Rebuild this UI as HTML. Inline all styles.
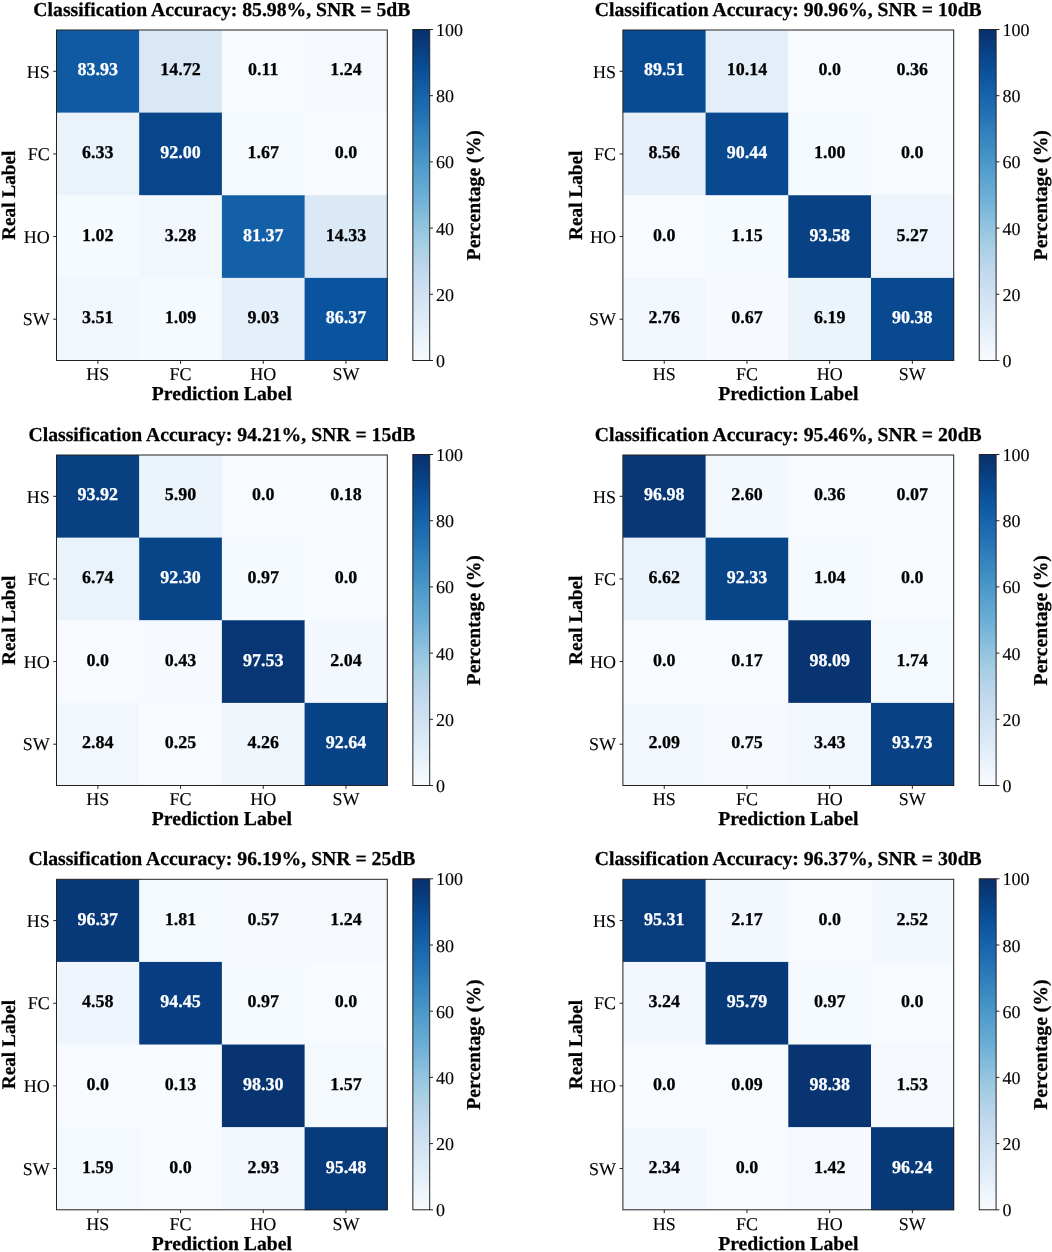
<!DOCTYPE html>
<html><head><meta charset="utf-8"><title>Confusion matrices</title><style>
html,body{margin:0;padding:0;background:#fff;overflow:hidden;}
svg{display:block;will-change:transform;}
text{font-family:"Liberation Serif",serif;text-rendering:geometricPrecision;stroke-width:0.25px;paint-order:stroke;}
.n[fill="#ffffff"]{stroke:#ffffff;}
.n[fill="#000000"]{stroke:#000000;}
.ti,.xl{stroke:#000;}
.yt,.xt,.ct{stroke:#000;stroke-width:0.12px;}
.n{font-size:18px;font-weight:bold;text-anchor:middle;}
.yt{font-size:18px;text-anchor:end;fill:#000;}
.xt{font-size:18px;text-anchor:middle;fill:#000;}
.ct{font-size:18px;text-anchor:start;fill:#000;}
.ti{font-size:19.7px;font-weight:bold;text-anchor:middle;fill:#000;}
.xl{font-size:19.7px;font-weight:bold;text-anchor:middle;fill:#000;}
.yl{font-size:19.3px;}
.tk{stroke:#222;stroke-width:1;}
</style></head>
<body><svg width="1052" height="1252" viewBox="0 0 1052 1252">
<defs><linearGradient id="blues" x1="0" y1="0" x2="0" y2="1"><stop offset="0%" stop-color="#08306b"/><stop offset="5%" stop-color="#083c7d"/><stop offset="10%" stop-color="#084a91"/><stop offset="15%" stop-color="#0d57a1"/><stop offset="20%" stop-color="#1764ab"/><stop offset="25%" stop-color="#2070b4"/><stop offset="30%" stop-color="#2e7ebc"/><stop offset="35%" stop-color="#3b8bc2"/><stop offset="40%" stop-color="#4a98c9"/><stop offset="45%" stop-color="#5ba3d0"/><stop offset="50%" stop-color="#6aaed6"/><stop offset="55%" stop-color="#7fb9da"/><stop offset="60%" stop-color="#94c4df"/><stop offset="65%" stop-color="#a6cee4"/><stop offset="70%" stop-color="#b7d4ea"/><stop offset="75%" stop-color="#c6dbef"/><stop offset="80%" stop-color="#d0e1f2"/><stop offset="85%" stop-color="#d9e8f5"/><stop offset="90%" stop-color="#e3eef9"/><stop offset="95%" stop-color="#eef5fc"/><stop offset="100%" stop-color="#f7fbff"/></linearGradient></defs>
<rect width="1052" height="1252" fill="#fff"/>
<rect x="56.5" y="30" width="83.1" height="83.03" fill="#0f5aa3"/>
<rect x="139.2" y="30" width="83.1" height="83.03" fill="#dae8f6"/>
<rect x="221.9" y="30" width="83.1" height="83.03" fill="#f7fbff"/>
<rect x="304.6" y="30" width="83.1" height="83.03" fill="#f5f9fe"/>
<rect x="56.5" y="112.62" width="83.1" height="83.03" fill="#eaf3fb"/>
<rect x="139.2" y="112.62" width="83.1" height="83.03" fill="#08458a"/>
<rect x="221.9" y="112.62" width="83.1" height="83.03" fill="#f4f9fe"/>
<rect x="304.6" y="112.62" width="83.1" height="83.03" fill="#f7fbff"/>
<rect x="56.5" y="195.25" width="83.1" height="83.03" fill="#f5fafe"/>
<rect x="139.2" y="195.25" width="83.1" height="83.03" fill="#f1f7fd"/>
<rect x="221.9" y="195.25" width="83.1" height="83.03" fill="#1460a8"/>
<rect x="304.6" y="195.25" width="83.1" height="83.03" fill="#dbe9f6"/>
<rect x="56.5" y="277.88" width="83.1" height="83.03" fill="#f1f7fd"/>
<rect x="139.2" y="277.88" width="83.1" height="83.03" fill="#f5fafe"/>
<rect x="221.9" y="277.88" width="83.1" height="83.03" fill="#e5eff9"/>
<rect x="304.6" y="277.88" width="83.1" height="83.03" fill="#0a539e"/>
<text class="n" x="97.85" y="75.41" fill="#ffffff">83.93</text>
<text class="n" x="180.55" y="75.41" fill="#000000">14.72</text>
<text class="n" x="263.25" y="75.41" fill="#000000">0.11</text>
<text class="n" x="345.95" y="75.41" fill="#000000">1.24</text>
<text class="n" x="97.85" y="158.04" fill="#000000">6.33</text>
<text class="n" x="180.55" y="158.04" fill="#ffffff">92.00</text>
<text class="n" x="263.25" y="158.04" fill="#000000">1.67</text>
<text class="n" x="345.95" y="158.04" fill="#000000">0.0</text>
<text class="n" x="97.85" y="240.66" fill="#000000">1.02</text>
<text class="n" x="180.55" y="240.66" fill="#000000">3.28</text>
<text class="n" x="263.25" y="240.66" fill="#ffffff">81.37</text>
<text class="n" x="345.95" y="240.66" fill="#000000">14.33</text>
<text class="n" x="97.85" y="323.29" fill="#000000">3.51</text>
<text class="n" x="180.55" y="323.29" fill="#000000">1.09</text>
<text class="n" x="263.25" y="323.29" fill="#000000">9.03</text>
<text class="n" x="345.95" y="323.29" fill="#ffffff">86.37</text>
<rect x="56.5" y="30" width="330.8" height="330.5" fill="none" stroke="#222222" stroke-width="1.0"/>
<line x1="53.2" y1="71.31" x2="56.5" y2="71.31" class="tk"/>
<line x1="97.85" y1="360.5" x2="97.85" y2="363.8" class="tk"/>
<text class="yt" x="49.7" y="77.51">HS</text>
<text class="xt" x="97.85" y="380.3">HS</text>
<line x1="53.2" y1="153.94" x2="56.5" y2="153.94" class="tk"/>
<line x1="180.55" y1="360.5" x2="180.55" y2="363.8" class="tk"/>
<text class="yt" x="49.7" y="160.14">FC</text>
<text class="xt" x="180.55" y="380.3">FC</text>
<line x1="53.2" y1="236.56" x2="56.5" y2="236.56" class="tk"/>
<line x1="263.25" y1="360.5" x2="263.25" y2="363.8" class="tk"/>
<text class="yt" x="49.7" y="242.76">HO</text>
<text class="xt" x="263.25" y="380.3">HO</text>
<line x1="53.2" y1="319.19" x2="56.5" y2="319.19" class="tk"/>
<line x1="345.95" y1="360.5" x2="345.95" y2="363.8" class="tk"/>
<text class="yt" x="49.7" y="325.39">SW</text>
<text class="xt" x="345.95" y="380.3">SW</text>
<text class="ti" x="221.9" y="15.5">Classification Accuracy: 85.98%, SNR = 5dB</text>
<text class="xl" x="221.9" y="400.4">Prediction Label</text>
<text class="xl yl" transform="translate(15.2,195.25) rotate(-90)" x="0" y="0">Real Label</text>
<rect x="412.85" y="29.5" width="16.85" height="331" fill="url(#blues)" stroke="#222222" stroke-width="1.0"/>
<line x1="429.7" y1="360.5" x2="433" y2="360.5" class="tk"/>
<text class="ct" x="436" y="367">0</text>
<line x1="429.7" y1="294.3" x2="433" y2="294.3" class="tk"/>
<text class="ct" x="436" y="300.8">20</text>
<line x1="429.7" y1="228.1" x2="433" y2="228.1" class="tk"/>
<text class="ct" x="436" y="234.6">40</text>
<line x1="429.7" y1="161.9" x2="433" y2="161.9" class="tk"/>
<text class="ct" x="436" y="168.4">60</text>
<line x1="429.7" y1="95.7" x2="433" y2="95.7" class="tk"/>
<text class="ct" x="436" y="102.2">80</text>
<line x1="429.7" y1="29.5" x2="433" y2="29.5" class="tk"/>
<text class="ct" x="436" y="36">100</text>
<text class="xl" transform="translate(480.2,195.25) rotate(-90)" x="0" y="0">Percentage (%)</text>
<rect x="622.9" y="30" width="83.1" height="83.03" fill="#084b93"/>
<rect x="705.6" y="30" width="83.1" height="83.03" fill="#e3eef9"/>
<rect x="788.3" y="30" width="83.1" height="83.03" fill="#f7fbff"/>
<rect x="871" y="30" width="83.1" height="83.03" fill="#f7fbff"/>
<rect x="622.9" y="112.62" width="83.1" height="83.03" fill="#e7f0fa"/>
<rect x="705.6" y="112.62" width="83.1" height="83.03" fill="#084990"/>
<rect x="788.3" y="112.62" width="83.1" height="83.03" fill="#f5fafe"/>
<rect x="871" y="112.62" width="83.1" height="83.03" fill="#f7fbff"/>
<rect x="622.9" y="195.25" width="83.1" height="83.03" fill="#f7fbff"/>
<rect x="705.6" y="195.25" width="83.1" height="83.03" fill="#f5fafe"/>
<rect x="788.3" y="195.25" width="83.1" height="83.03" fill="#084184"/>
<rect x="871" y="195.25" width="83.1" height="83.03" fill="#edf4fc"/>
<rect x="622.9" y="277.88" width="83.1" height="83.03" fill="#f2f7fd"/>
<rect x="705.6" y="277.88" width="83.1" height="83.03" fill="#f6faff"/>
<rect x="788.3" y="277.88" width="83.1" height="83.03" fill="#ebf3fb"/>
<rect x="871" y="277.88" width="83.1" height="83.03" fill="#084990"/>
<text class="n" x="664.25" y="75.41" fill="#ffffff">89.51</text>
<text class="n" x="746.95" y="75.41" fill="#000000">10.14</text>
<text class="n" x="829.65" y="75.41" fill="#000000">0.0</text>
<text class="n" x="912.35" y="75.41" fill="#000000">0.36</text>
<text class="n" x="664.25" y="158.04" fill="#000000">8.56</text>
<text class="n" x="746.95" y="158.04" fill="#ffffff">90.44</text>
<text class="n" x="829.65" y="158.04" fill="#000000">1.00</text>
<text class="n" x="912.35" y="158.04" fill="#000000">0.0</text>
<text class="n" x="664.25" y="240.66" fill="#000000">0.0</text>
<text class="n" x="746.95" y="240.66" fill="#000000">1.15</text>
<text class="n" x="829.65" y="240.66" fill="#ffffff">93.58</text>
<text class="n" x="912.35" y="240.66" fill="#000000">5.27</text>
<text class="n" x="664.25" y="323.29" fill="#000000">2.76</text>
<text class="n" x="746.95" y="323.29" fill="#000000">0.67</text>
<text class="n" x="829.65" y="323.29" fill="#000000">6.19</text>
<text class="n" x="912.35" y="323.29" fill="#ffffff">90.38</text>
<rect x="622.9" y="30" width="330.8" height="330.5" fill="none" stroke="#222222" stroke-width="1.0"/>
<line x1="619.6" y1="71.31" x2="622.9" y2="71.31" class="tk"/>
<line x1="664.25" y1="360.5" x2="664.25" y2="363.8" class="tk"/>
<text class="yt" x="616.1" y="77.51">HS</text>
<text class="xt" x="664.25" y="380.3">HS</text>
<line x1="619.6" y1="153.94" x2="622.9" y2="153.94" class="tk"/>
<line x1="746.95" y1="360.5" x2="746.95" y2="363.8" class="tk"/>
<text class="yt" x="616.1" y="160.14">FC</text>
<text class="xt" x="746.95" y="380.3">FC</text>
<line x1="619.6" y1="236.56" x2="622.9" y2="236.56" class="tk"/>
<line x1="829.65" y1="360.5" x2="829.65" y2="363.8" class="tk"/>
<text class="yt" x="616.1" y="242.76">HO</text>
<text class="xt" x="829.65" y="380.3">HO</text>
<line x1="619.6" y1="319.19" x2="622.9" y2="319.19" class="tk"/>
<line x1="912.35" y1="360.5" x2="912.35" y2="363.8" class="tk"/>
<text class="yt" x="616.1" y="325.39">SW</text>
<text class="xt" x="912.35" y="380.3">SW</text>
<text class="ti" x="788.3" y="15.5">Classification Accuracy: 90.96%, SNR = 10dB</text>
<text class="xl" x="788.3" y="400.4">Prediction Label</text>
<text class="xl yl" transform="translate(581.6,195.25) rotate(-90)" x="0" y="0">Real Label</text>
<rect x="979.25" y="29.5" width="16.85" height="331" fill="url(#blues)" stroke="#222222" stroke-width="1.0"/>
<line x1="996.1" y1="360.5" x2="999.4" y2="360.5" class="tk"/>
<text class="ct" x="1002.4" y="367">0</text>
<line x1="996.1" y1="294.3" x2="999.4" y2="294.3" class="tk"/>
<text class="ct" x="1002.4" y="300.8">20</text>
<line x1="996.1" y1="228.1" x2="999.4" y2="228.1" class="tk"/>
<text class="ct" x="1002.4" y="234.6">40</text>
<line x1="996.1" y1="161.9" x2="999.4" y2="161.9" class="tk"/>
<text class="ct" x="1002.4" y="168.4">60</text>
<line x1="996.1" y1="95.7" x2="999.4" y2="95.7" class="tk"/>
<text class="ct" x="1002.4" y="102.2">80</text>
<line x1="996.1" y1="29.5" x2="999.4" y2="29.5" class="tk"/>
<text class="ct" x="1002.4" y="36">100</text>
<text class="xl" transform="translate(1046.6,195.25) rotate(-90)" x="0" y="0">Percentage (%)</text>
<rect x="56.5" y="455" width="83.1" height="83.03" fill="#084082"/>
<rect x="139.2" y="455" width="83.1" height="83.03" fill="#ebf3fb"/>
<rect x="221.9" y="455" width="83.1" height="83.03" fill="#f7fbff"/>
<rect x="304.6" y="455" width="83.1" height="83.03" fill="#f7fbff"/>
<rect x="56.5" y="537.62" width="83.1" height="83.03" fill="#eaf2fb"/>
<rect x="139.2" y="537.62" width="83.1" height="83.03" fill="#084488"/>
<rect x="221.9" y="537.62" width="83.1" height="83.03" fill="#f5fafe"/>
<rect x="304.6" y="537.62" width="83.1" height="83.03" fill="#f7fbff"/>
<rect x="56.5" y="620.25" width="83.1" height="83.03" fill="#f7fbff"/>
<rect x="139.2" y="620.25" width="83.1" height="83.03" fill="#f6faff"/>
<rect x="221.9" y="620.25" width="83.1" height="83.03" fill="#083674"/>
<rect x="304.6" y="620.25" width="83.1" height="83.03" fill="#f3f8fe"/>
<rect x="56.5" y="702.88" width="83.1" height="83.03" fill="#f2f7fd"/>
<rect x="139.2" y="702.88" width="83.1" height="83.03" fill="#f7fbff"/>
<rect x="221.9" y="702.88" width="83.1" height="83.03" fill="#eff6fc"/>
<rect x="304.6" y="702.88" width="83.1" height="83.03" fill="#084387"/>
<text class="n" x="97.85" y="500.41" fill="#ffffff">93.92</text>
<text class="n" x="180.55" y="500.41" fill="#000000">5.90</text>
<text class="n" x="263.25" y="500.41" fill="#000000">0.0</text>
<text class="n" x="345.95" y="500.41" fill="#000000">0.18</text>
<text class="n" x="97.85" y="583.04" fill="#000000">6.74</text>
<text class="n" x="180.55" y="583.04" fill="#ffffff">92.30</text>
<text class="n" x="263.25" y="583.04" fill="#000000">0.97</text>
<text class="n" x="345.95" y="583.04" fill="#000000">0.0</text>
<text class="n" x="97.85" y="665.66" fill="#000000">0.0</text>
<text class="n" x="180.55" y="665.66" fill="#000000">0.43</text>
<text class="n" x="263.25" y="665.66" fill="#ffffff">97.53</text>
<text class="n" x="345.95" y="665.66" fill="#000000">2.04</text>
<text class="n" x="97.85" y="748.29" fill="#000000">2.84</text>
<text class="n" x="180.55" y="748.29" fill="#000000">0.25</text>
<text class="n" x="263.25" y="748.29" fill="#000000">4.26</text>
<text class="n" x="345.95" y="748.29" fill="#ffffff">92.64</text>
<rect x="56.5" y="455" width="330.8" height="330.5" fill="none" stroke="#222222" stroke-width="1.0"/>
<line x1="53.2" y1="496.31" x2="56.5" y2="496.31" class="tk"/>
<line x1="97.85" y1="785.5" x2="97.85" y2="788.8" class="tk"/>
<text class="yt" x="49.7" y="502.51">HS</text>
<text class="xt" x="97.85" y="805.3">HS</text>
<line x1="53.2" y1="578.94" x2="56.5" y2="578.94" class="tk"/>
<line x1="180.55" y1="785.5" x2="180.55" y2="788.8" class="tk"/>
<text class="yt" x="49.7" y="585.14">FC</text>
<text class="xt" x="180.55" y="805.3">FC</text>
<line x1="53.2" y1="661.56" x2="56.5" y2="661.56" class="tk"/>
<line x1="263.25" y1="785.5" x2="263.25" y2="788.8" class="tk"/>
<text class="yt" x="49.7" y="667.76">HO</text>
<text class="xt" x="263.25" y="805.3">HO</text>
<line x1="53.2" y1="744.19" x2="56.5" y2="744.19" class="tk"/>
<line x1="345.95" y1="785.5" x2="345.95" y2="788.8" class="tk"/>
<text class="yt" x="49.7" y="750.39">SW</text>
<text class="xt" x="345.95" y="805.3">SW</text>
<text class="ti" x="221.9" y="440.5">Classification Accuracy: 94.21%, SNR = 15dB</text>
<text class="xl" x="221.9" y="825.4">Prediction Label</text>
<text class="xl yl" transform="translate(15.2,620.25) rotate(-90)" x="0" y="0">Real Label</text>
<rect x="412.85" y="454.5" width="16.85" height="331" fill="url(#blues)" stroke="#222222" stroke-width="1.0"/>
<line x1="429.7" y1="785.5" x2="433" y2="785.5" class="tk"/>
<text class="ct" x="436" y="792">0</text>
<line x1="429.7" y1="719.3" x2="433" y2="719.3" class="tk"/>
<text class="ct" x="436" y="725.8">20</text>
<line x1="429.7" y1="653.1" x2="433" y2="653.1" class="tk"/>
<text class="ct" x="436" y="659.6">40</text>
<line x1="429.7" y1="586.9" x2="433" y2="586.9" class="tk"/>
<text class="ct" x="436" y="593.4">60</text>
<line x1="429.7" y1="520.7" x2="433" y2="520.7" class="tk"/>
<text class="ct" x="436" y="527.2">80</text>
<line x1="429.7" y1="454.5" x2="433" y2="454.5" class="tk"/>
<text class="ct" x="436" y="461">100</text>
<text class="xl" transform="translate(480.2,620.25) rotate(-90)" x="0" y="0">Percentage (%)</text>
<rect x="622.9" y="455" width="83.1" height="83.03" fill="#083776"/>
<rect x="705.6" y="455" width="83.1" height="83.03" fill="#f2f8fd"/>
<rect x="788.3" y="455" width="83.1" height="83.03" fill="#f7fbff"/>
<rect x="871" y="455" width="83.1" height="83.03" fill="#f7fbff"/>
<rect x="622.9" y="537.62" width="83.1" height="83.03" fill="#eaf3fb"/>
<rect x="705.6" y="537.62" width="83.1" height="83.03" fill="#084488"/>
<rect x="788.3" y="537.62" width="83.1" height="83.03" fill="#f5fafe"/>
<rect x="871" y="537.62" width="83.1" height="83.03" fill="#f7fbff"/>
<rect x="622.9" y="620.25" width="83.1" height="83.03" fill="#f7fbff"/>
<rect x="705.6" y="620.25" width="83.1" height="83.03" fill="#f7fbff"/>
<rect x="788.3" y="620.25" width="83.1" height="83.03" fill="#083471"/>
<rect x="871" y="620.25" width="83.1" height="83.03" fill="#f4f9fe"/>
<rect x="622.9" y="702.88" width="83.1" height="83.03" fill="#f3f8fe"/>
<rect x="705.6" y="702.88" width="83.1" height="83.03" fill="#f6faff"/>
<rect x="788.3" y="702.88" width="83.1" height="83.03" fill="#f1f7fd"/>
<rect x="871" y="702.88" width="83.1" height="83.03" fill="#084184"/>
<text class="n" x="664.25" y="500.41" fill="#ffffff">96.98</text>
<text class="n" x="746.95" y="500.41" fill="#000000">2.60</text>
<text class="n" x="829.65" y="500.41" fill="#000000">0.36</text>
<text class="n" x="912.35" y="500.41" fill="#000000">0.07</text>
<text class="n" x="664.25" y="583.04" fill="#000000">6.62</text>
<text class="n" x="746.95" y="583.04" fill="#ffffff">92.33</text>
<text class="n" x="829.65" y="583.04" fill="#000000">1.04</text>
<text class="n" x="912.35" y="583.04" fill="#000000">0.0</text>
<text class="n" x="664.25" y="665.66" fill="#000000">0.0</text>
<text class="n" x="746.95" y="665.66" fill="#000000">0.17</text>
<text class="n" x="829.65" y="665.66" fill="#ffffff">98.09</text>
<text class="n" x="912.35" y="665.66" fill="#000000">1.74</text>
<text class="n" x="664.25" y="748.29" fill="#000000">2.09</text>
<text class="n" x="746.95" y="748.29" fill="#000000">0.75</text>
<text class="n" x="829.65" y="748.29" fill="#000000">3.43</text>
<text class="n" x="912.35" y="748.29" fill="#ffffff">93.73</text>
<rect x="622.9" y="455" width="330.8" height="330.5" fill="none" stroke="#222222" stroke-width="1.0"/>
<line x1="619.6" y1="496.31" x2="622.9" y2="496.31" class="tk"/>
<line x1="664.25" y1="785.5" x2="664.25" y2="788.8" class="tk"/>
<text class="yt" x="616.1" y="502.51">HS</text>
<text class="xt" x="664.25" y="805.3">HS</text>
<line x1="619.6" y1="578.94" x2="622.9" y2="578.94" class="tk"/>
<line x1="746.95" y1="785.5" x2="746.95" y2="788.8" class="tk"/>
<text class="yt" x="616.1" y="585.14">FC</text>
<text class="xt" x="746.95" y="805.3">FC</text>
<line x1="619.6" y1="661.56" x2="622.9" y2="661.56" class="tk"/>
<line x1="829.65" y1="785.5" x2="829.65" y2="788.8" class="tk"/>
<text class="yt" x="616.1" y="667.76">HO</text>
<text class="xt" x="829.65" y="805.3">HO</text>
<line x1="619.6" y1="744.19" x2="622.9" y2="744.19" class="tk"/>
<line x1="912.35" y1="785.5" x2="912.35" y2="788.8" class="tk"/>
<text class="yt" x="616.1" y="750.39">SW</text>
<text class="xt" x="912.35" y="805.3">SW</text>
<text class="ti" x="788.3" y="440.5">Classification Accuracy: 95.46%, SNR = 20dB</text>
<text class="xl" x="788.3" y="825.4">Prediction Label</text>
<text class="xl yl" transform="translate(581.6,620.25) rotate(-90)" x="0" y="0">Real Label</text>
<rect x="979.25" y="454.5" width="16.85" height="331" fill="url(#blues)" stroke="#222222" stroke-width="1.0"/>
<line x1="996.1" y1="785.5" x2="999.4" y2="785.5" class="tk"/>
<text class="ct" x="1002.4" y="792">0</text>
<line x1="996.1" y1="719.3" x2="999.4" y2="719.3" class="tk"/>
<text class="ct" x="1002.4" y="725.8">20</text>
<line x1="996.1" y1="653.1" x2="999.4" y2="653.1" class="tk"/>
<text class="ct" x="1002.4" y="659.6">40</text>
<line x1="996.1" y1="586.9" x2="999.4" y2="586.9" class="tk"/>
<text class="ct" x="1002.4" y="593.4">60</text>
<line x1="996.1" y1="520.7" x2="999.4" y2="520.7" class="tk"/>
<text class="ct" x="1002.4" y="527.2">80</text>
<line x1="996.1" y1="454.5" x2="999.4" y2="454.5" class="tk"/>
<text class="ct" x="1002.4" y="461">100</text>
<text class="xl" transform="translate(1046.6,620.25) rotate(-90)" x="0" y="0">Percentage (%)</text>
<rect x="56.5" y="879.3" width="83.1" height="83.03" fill="#083979"/>
<rect x="139.2" y="879.3" width="83.1" height="83.03" fill="#f4f9fe"/>
<rect x="221.9" y="879.3" width="83.1" height="83.03" fill="#f6faff"/>
<rect x="304.6" y="879.3" width="83.1" height="83.03" fill="#f5f9fe"/>
<rect x="56.5" y="961.92" width="83.1" height="83.03" fill="#eef5fc"/>
<rect x="139.2" y="961.92" width="83.1" height="83.03" fill="#083e81"/>
<rect x="221.9" y="961.92" width="83.1" height="83.03" fill="#f5fafe"/>
<rect x="304.6" y="961.92" width="83.1" height="83.03" fill="#f7fbff"/>
<rect x="56.5" y="1044.55" width="83.1" height="83.03" fill="#f7fbff"/>
<rect x="139.2" y="1044.55" width="83.1" height="83.03" fill="#f7fbff"/>
<rect x="221.9" y="1044.55" width="83.1" height="83.03" fill="#083471"/>
<rect x="304.6" y="1044.55" width="83.1" height="83.03" fill="#f4f9fe"/>
<rect x="56.5" y="1127.17" width="83.1" height="83.03" fill="#f4f9fe"/>
<rect x="139.2" y="1127.17" width="83.1" height="83.03" fill="#f7fbff"/>
<rect x="221.9" y="1127.17" width="83.1" height="83.03" fill="#f2f7fd"/>
<rect x="304.6" y="1127.17" width="83.1" height="83.03" fill="#083b7c"/>
<text class="n" x="97.85" y="924.71" fill="#ffffff">96.37</text>
<text class="n" x="180.55" y="924.71" fill="#000000">1.81</text>
<text class="n" x="263.25" y="924.71" fill="#000000">0.57</text>
<text class="n" x="345.95" y="924.71" fill="#000000">1.24</text>
<text class="n" x="97.85" y="1007.34" fill="#000000">4.58</text>
<text class="n" x="180.55" y="1007.34" fill="#ffffff">94.45</text>
<text class="n" x="263.25" y="1007.34" fill="#000000">0.97</text>
<text class="n" x="345.95" y="1007.34" fill="#000000">0.0</text>
<text class="n" x="97.85" y="1089.96" fill="#000000">0.0</text>
<text class="n" x="180.55" y="1089.96" fill="#000000">0.13</text>
<text class="n" x="263.25" y="1089.96" fill="#ffffff">98.30</text>
<text class="n" x="345.95" y="1089.96" fill="#000000">1.57</text>
<text class="n" x="97.85" y="1172.59" fill="#000000">1.59</text>
<text class="n" x="180.55" y="1172.59" fill="#000000">0.0</text>
<text class="n" x="263.25" y="1172.59" fill="#000000">2.93</text>
<text class="n" x="345.95" y="1172.59" fill="#ffffff">95.48</text>
<rect x="56.5" y="879.3" width="330.8" height="330.5" fill="none" stroke="#222222" stroke-width="1.0"/>
<line x1="53.2" y1="920.61" x2="56.5" y2="920.61" class="tk"/>
<line x1="97.85" y1="1209.8" x2="97.85" y2="1213.1" class="tk"/>
<text class="yt" x="49.7" y="926.81">HS</text>
<text class="xt" x="97.85" y="1229.6">HS</text>
<line x1="53.2" y1="1003.24" x2="56.5" y2="1003.24" class="tk"/>
<line x1="180.55" y1="1209.8" x2="180.55" y2="1213.1" class="tk"/>
<text class="yt" x="49.7" y="1009.44">FC</text>
<text class="xt" x="180.55" y="1229.6">FC</text>
<line x1="53.2" y1="1085.86" x2="56.5" y2="1085.86" class="tk"/>
<line x1="263.25" y1="1209.8" x2="263.25" y2="1213.1" class="tk"/>
<text class="yt" x="49.7" y="1092.06">HO</text>
<text class="xt" x="263.25" y="1229.6">HO</text>
<line x1="53.2" y1="1168.49" x2="56.5" y2="1168.49" class="tk"/>
<line x1="345.95" y1="1209.8" x2="345.95" y2="1213.1" class="tk"/>
<text class="yt" x="49.7" y="1174.69">SW</text>
<text class="xt" x="345.95" y="1229.6">SW</text>
<text class="ti" x="221.9" y="864.8">Classification Accuracy: 96.19%, SNR = 25dB</text>
<text class="xl" x="221.9" y="1249.7">Prediction Label</text>
<text class="xl yl" transform="translate(15.2,1044.55) rotate(-90)" x="0" y="0">Real Label</text>
<rect x="412.85" y="878.8" width="16.85" height="331" fill="url(#blues)" stroke="#222222" stroke-width="1.0"/>
<line x1="429.7" y1="1209.8" x2="433" y2="1209.8" class="tk"/>
<text class="ct" x="436" y="1216.3">0</text>
<line x1="429.7" y1="1143.6" x2="433" y2="1143.6" class="tk"/>
<text class="ct" x="436" y="1150.1">20</text>
<line x1="429.7" y1="1077.4" x2="433" y2="1077.4" class="tk"/>
<text class="ct" x="436" y="1083.9">40</text>
<line x1="429.7" y1="1011.2" x2="433" y2="1011.2" class="tk"/>
<text class="ct" x="436" y="1017.7">60</text>
<line x1="429.7" y1="945" x2="433" y2="945" class="tk"/>
<text class="ct" x="436" y="951.5">80</text>
<line x1="429.7" y1="878.8" x2="433" y2="878.8" class="tk"/>
<text class="ct" x="436" y="885.3">100</text>
<text class="xl" transform="translate(480.2,1044.55) rotate(-90)" x="0" y="0">Percentage (%)</text>
<rect x="622.9" y="879.3" width="83.1" height="83.03" fill="#083c7d"/>
<rect x="705.6" y="879.3" width="83.1" height="83.03" fill="#f3f8fe"/>
<rect x="788.3" y="879.3" width="83.1" height="83.03" fill="#f7fbff"/>
<rect x="871" y="879.3" width="83.1" height="83.03" fill="#f2f8fd"/>
<rect x="622.9" y="961.92" width="83.1" height="83.03" fill="#f1f7fd"/>
<rect x="705.6" y="961.92" width="83.1" height="83.03" fill="#083a7a"/>
<rect x="788.3" y="961.92" width="83.1" height="83.03" fill="#f5fafe"/>
<rect x="871" y="961.92" width="83.1" height="83.03" fill="#f7fbff"/>
<rect x="622.9" y="1044.55" width="83.1" height="83.03" fill="#f7fbff"/>
<rect x="705.6" y="1044.55" width="83.1" height="83.03" fill="#f7fbff"/>
<rect x="788.3" y="1044.55" width="83.1" height="83.03" fill="#083471"/>
<rect x="871" y="1044.55" width="83.1" height="83.03" fill="#f5f9fe"/>
<rect x="622.9" y="1127.17" width="83.1" height="83.03" fill="#f3f8fe"/>
<rect x="705.6" y="1127.17" width="83.1" height="83.03" fill="#f7fbff"/>
<rect x="788.3" y="1127.17" width="83.1" height="83.03" fill="#f5f9fe"/>
<rect x="871" y="1127.17" width="83.1" height="83.03" fill="#083979"/>
<text class="n" x="664.25" y="924.71" fill="#ffffff">95.31</text>
<text class="n" x="746.95" y="924.71" fill="#000000">2.17</text>
<text class="n" x="829.65" y="924.71" fill="#000000">0.0</text>
<text class="n" x="912.35" y="924.71" fill="#000000">2.52</text>
<text class="n" x="664.25" y="1007.34" fill="#000000">3.24</text>
<text class="n" x="746.95" y="1007.34" fill="#ffffff">95.79</text>
<text class="n" x="829.65" y="1007.34" fill="#000000">0.97</text>
<text class="n" x="912.35" y="1007.34" fill="#000000">0.0</text>
<text class="n" x="664.25" y="1089.96" fill="#000000">0.0</text>
<text class="n" x="746.95" y="1089.96" fill="#000000">0.09</text>
<text class="n" x="829.65" y="1089.96" fill="#ffffff">98.38</text>
<text class="n" x="912.35" y="1089.96" fill="#000000">1.53</text>
<text class="n" x="664.25" y="1172.59" fill="#000000">2.34</text>
<text class="n" x="746.95" y="1172.59" fill="#000000">0.0</text>
<text class="n" x="829.65" y="1172.59" fill="#000000">1.42</text>
<text class="n" x="912.35" y="1172.59" fill="#ffffff">96.24</text>
<rect x="622.9" y="879.3" width="330.8" height="330.5" fill="none" stroke="#222222" stroke-width="1.0"/>
<line x1="619.6" y1="920.61" x2="622.9" y2="920.61" class="tk"/>
<line x1="664.25" y1="1209.8" x2="664.25" y2="1213.1" class="tk"/>
<text class="yt" x="616.1" y="926.81">HS</text>
<text class="xt" x="664.25" y="1229.6">HS</text>
<line x1="619.6" y1="1003.24" x2="622.9" y2="1003.24" class="tk"/>
<line x1="746.95" y1="1209.8" x2="746.95" y2="1213.1" class="tk"/>
<text class="yt" x="616.1" y="1009.44">FC</text>
<text class="xt" x="746.95" y="1229.6">FC</text>
<line x1="619.6" y1="1085.86" x2="622.9" y2="1085.86" class="tk"/>
<line x1="829.65" y1="1209.8" x2="829.65" y2="1213.1" class="tk"/>
<text class="yt" x="616.1" y="1092.06">HO</text>
<text class="xt" x="829.65" y="1229.6">HO</text>
<line x1="619.6" y1="1168.49" x2="622.9" y2="1168.49" class="tk"/>
<line x1="912.35" y1="1209.8" x2="912.35" y2="1213.1" class="tk"/>
<text class="yt" x="616.1" y="1174.69">SW</text>
<text class="xt" x="912.35" y="1229.6">SW</text>
<text class="ti" x="788.3" y="864.8">Classification Accuracy: 96.37%, SNR = 30dB</text>
<text class="xl" x="788.3" y="1249.7">Prediction Label</text>
<text class="xl yl" transform="translate(581.6,1044.55) rotate(-90)" x="0" y="0">Real Label</text>
<rect x="979.25" y="878.8" width="16.85" height="331" fill="url(#blues)" stroke="#222222" stroke-width="1.0"/>
<line x1="996.1" y1="1209.8" x2="999.4" y2="1209.8" class="tk"/>
<text class="ct" x="1002.4" y="1216.3">0</text>
<line x1="996.1" y1="1143.6" x2="999.4" y2="1143.6" class="tk"/>
<text class="ct" x="1002.4" y="1150.1">20</text>
<line x1="996.1" y1="1077.4" x2="999.4" y2="1077.4" class="tk"/>
<text class="ct" x="1002.4" y="1083.9">40</text>
<line x1="996.1" y1="1011.2" x2="999.4" y2="1011.2" class="tk"/>
<text class="ct" x="1002.4" y="1017.7">60</text>
<line x1="996.1" y1="945" x2="999.4" y2="945" class="tk"/>
<text class="ct" x="1002.4" y="951.5">80</text>
<line x1="996.1" y1="878.8" x2="999.4" y2="878.8" class="tk"/>
<text class="ct" x="1002.4" y="885.3">100</text>
<text class="xl" transform="translate(1046.6,1044.55) rotate(-90)" x="0" y="0">Percentage (%)</text>
</svg></body></html>
